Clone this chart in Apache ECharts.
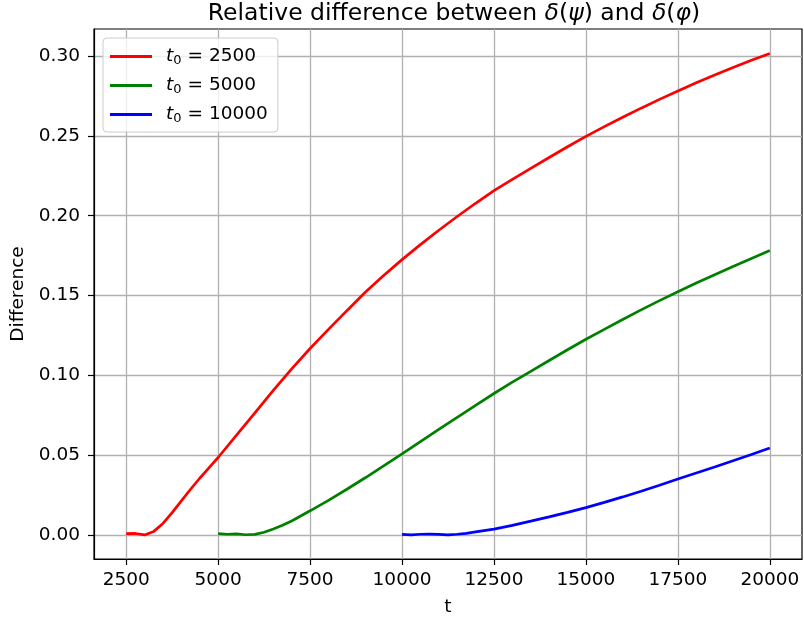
<!DOCTYPE html>
<html>
<head>
<meta charset="utf-8">
<script src="https://cdn.jsdelivr.net/npm/echarts@6/dist/echarts.min.js"></script>
<style>
  html, body { margin: 0; padding: 0; background: #fff; }
  #chart { width: 804px; height: 623px; }
</style>
</head>
<body>
<div id="chart"></div>
<script>
  // data
  var redT = [2500, 2750, 3000, 3250, 3500, 3750, 4000, 4250, 4500, 4750, 5000, 5500, 6000, 6500, 7000, 7500,
    8000, 8500, 9000, 9500, 10000, 10500, 11000, 11500, 12000, 12500, 13000, 13500, 14000, 14500, 15000,
    15500, 16000, 16500, 17000, 17500, 18000, 18500, 19000, 19500, 20000];
  var redDiff = [0.0008, 0.0009, 0.0000, 0.0022, 0.0072, 0.0140, 0.0213, 0.0286, 0.0355, 0.0420, 0.0485,
    0.0625, 0.0765, 0.0905, 0.1040, 0.1168, 0.1288, 0.1405, 0.1520, 0.1625, 0.1725, 0.1819, 0.1909,
    0.1995, 0.2078, 0.2157, 0.2228, 0.2297, 0.2365, 0.2432, 0.2497, 0.2558, 0.2617, 0.2674, 0.2729,
    0.2782, 0.2833, 0.2882, 0.2929, 0.2974, 0.3017];

  var greenT = [5000, 5250, 5500, 5750, 6000, 6250, 6500, 6750, 7000, 7500, 8000, 8500, 9000, 9500, 10000,
    10500, 11000, 11500, 12000, 12500, 13000, 13500, 14000, 14500, 15000, 15500, 16000, 16500, 17000,
    17500, 18000, 18500, 19000, 19500, 20000];
  var greenDiff = [0.0008, 0.0004, 0.0007, 0.0001, 0.0003, 0.0017, 0.0037, 0.0060, 0.0087, 0.0151, 0.0216,
    0.0286, 0.0358, 0.0432, 0.0507, 0.0584, 0.0661, 0.0737, 0.0812, 0.0886, 0.0957, 0.1025, 0.1093,
    0.1160, 0.1226, 0.1288, 0.1350, 0.1410, 0.1468, 0.1524, 0.1578, 0.1630, 0.1682, 0.1732, 0.1782];

  var blueT = [10000, 10250, 10500, 10750, 11000, 11250, 11500, 11750, 12000, 12500, 13000, 13500, 14000,
    14500, 15000, 15500, 16000, 16500, 17000, 17500, 18000, 18500, 19000, 19500, 20000];
  var blueDiff = [0.0003, 0.0000, 0.0004, 0.0005, 0.0003, 0.0000, 0.0004, 0.0010, 0.0019, 0.0036, 0.0060,
    0.0086, 0.0113, 0.0141, 0.0171, 0.0204, 0.0238, 0.0274, 0.0311, 0.0350, 0.0388, 0.0426, 0.0465,
    0.0504, 0.0544];

  var seriesNames = ['t0 = 2500', 't0 = 5000', 't0 = 10000'];
  var seriesColors = ['#ff0000', '#008000', '#0000ff'];
  var xTicks = [2500, 5000, 7500, 10000, 12500, 15000, 17500, 20000];
  var yTicks = [0, 0.05, 0.10, 0.15, 0.20, 0.25, 0.30];

  function pairs(ts, vs) {
    return ts.map(function (t, i) { return [t, vs[i]]; });
  }

  var font = 'DejaVu Sans';
  var fs = 18.5;
  var chart = echarts.init(document.getElementById('chart'), null, { renderer: 'canvas' });

  var allData = [pairs(redT, redDiff), pairs(greenT, greenDiff), pairs(blueT, blueDiff)];
  var series = allData.map(function (d, i) {
    return {
      name: seriesNames[i],
      type: 'line',
      data: d,
      showSymbol: false,
      lineStyle: { color: seriesColors[i], width: 2.7 },
      itemStyle: { color: seriesColors[i] },
      emphasis: { disabled: true },
      animation: false
    };
  });

  chart.setOption({
    backgroundColor: '#fff',
    animation: false,
    title: {
      text: '{n|Relative difference between }{i|δ}{n|(}{i|ψ}{n|) and }{i|δ}{n|(}{i|φ}{n|)}',
      left: 449,
      textAlign: 'center',
      top: -3,
      textStyle: {
        fontWeight: 'normal',
        rich: {
          n: { fontFamily: font, fontSize: 23.5, fontWeight: 'normal', color: '#000' },
          i: { fontFamily: font, fontSize: 23.5, fontWeight: 'normal', fontStyle: 'italic', color: '#000' }
        }
      }
    },
    legend: {
      orient: 'vertical',
      left: 103,
      top: 38,
      padding: [8, 10, 7, 7],
      itemGap: 8,
      itemWidth: 42,
      itemHeight: 3,
      icon: 'rect',
      backgroundColor: 'rgba(255,255,255,0.8)',
      borderColor: '#cccccc',
      borderWidth: 1,
      borderRadius: 4,
      data: seriesNames,
      formatter: function (name) {
        return '{it|t}{sub|0}{eq|=}{n|' + name.slice(5) + '}';
      },
      textStyle: {
        rich: {
          it: { fontFamily: font, fontSize: fs, fontStyle: 'italic', color: '#000', lineHeight: 20, padding: [0, 0, 0, 9] },
          sub: { fontFamily: font, fontSize: 13, color: '#000', lineHeight: 20, padding: [8, 0, 0, 0] },
          eq: { fontFamily: font, fontSize: fs, color: '#000', lineHeight: 20, padding: [0, 6, 0, 6] },
          n: { fontFamily: font, fontSize: fs, color: '#000', lineHeight: 20 }
        }
      }
    },
    grid: {
      left: 94, right: 2, top: 29, bottom: 64,
      show: true, borderColor: '#000', borderWidth: 1.2, backgroundColor: '#fff'
    },
    xAxis: {
      type: 'value',
      min: 1625,
      max: 20875,
      name: 't',
      nameLocation: 'middle',
      nameGap: 39,
      nameTextStyle: { fontFamily: font, fontSize: fs, color: '#000' },
      axisLine: { show: true, onZero: false, lineStyle: { color: '#000', width: 1.2 } },
      axisTick: { show: true, inside: false, length: 6, customValues: xTicks, lineStyle: { color: '#000', width: 1.2 } },
      axisLabel: {
        customValues: xTicks, margin: 12, fontFamily: font, fontSize: fs, color: '#000',
        formatter: function (v) { return String(v); }
      },
      splitLine: { show: true, lineStyle: { color: '#b0b0b0', width: 1.3 } }
    },
    yAxis: {
      type: 'value',
      min: -0.0151,
      max: 0.317,
      name: 'Difference',
      nameLocation: 'middle',
      nameGap: 66,
      nameTextStyle: { fontFamily: font, fontSize: fs, color: '#000' },
      axisLine: { show: true, onZero: false, lineStyle: { color: '#000', width: 1.2 } },
      axisTick: { show: true, inside: false, length: 6, customValues: yTicks, lineStyle: { color: '#000', width: 1.2 } },
      axisLabel: {
        customValues: yTicks, margin: 14, fontFamily: font, fontSize: fs, color: '#000',
        formatter: function (v) { return v.toFixed(2); }
      },
      splitLine: { show: true, lineStyle: { color: '#b0b0b0', width: 1.3 } }
    },
    series: series
  });

  window.onresize = function () {
    chart.resize();
  };
</script>
</body>
</html>
